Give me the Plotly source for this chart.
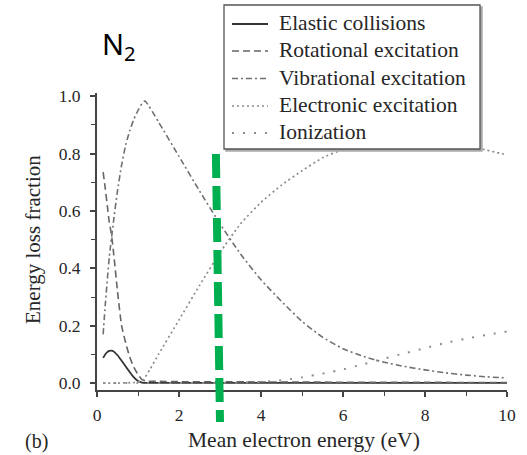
import plotly.graph_objects as go

# ---------------- data ----------------
energy_elastic = [0.15, 0.2, 0.25, 0.3, 0.35, 0.4, 0.5, 0.6, 0.7, 0.8, 0.9, 1.0, 1.1, 1.2, 1.5, 2, 3, 4, 5, 6, 7, 8, 9, 10]
frac_elastic = [0.088, 0.1, 0.108, 0.112, 0.113, 0.111, 0.097, 0.078, 0.058, 0.038, 0.02, 0.007, 0.002, 0.001, 0.001,
                0.001, 0.001, 0.001, 0.001, 0.001, 0.001, 0.001, 0.001, 0.001]

energy_rot = [0.15, 0.2, 0.25, 0.3, 0.35, 0.4, 0.5, 0.6, 0.7, 0.8, 0.9, 1.0, 1.1, 1.2, 1.5, 2, 3, 4, 5, 6, 7, 8, 9, 10]
frac_rot = [0.735, 0.68, 0.62, 0.56, 0.52, 0.46, 0.32, 0.2, 0.14, 0.09, 0.055, 0.03, 0.012, 0.007, 0.006, 0.005,
            0.005, 0.004, 0.004, 0.003, 0.003, 0.003, 0.002, 0.002]

energy_vib = [0.15, 0.2, 0.3, 0.4, 0.5, 0.6, 0.7, 0.8, 0.9, 1.0, 1.1, 1.17, 1.5, 2, 2.5, 3, 3.5, 4, 4.5, 5, 5.5,
              6, 6.5, 7, 7.5, 8, 8.5, 9, 9.5, 10]
frac_vib = [0.17, 0.27, 0.44, 0.56, 0.67, 0.76, 0.83, 0.88, 0.92, 0.95, 0.975, 0.983, 0.91, 0.79, 0.67, 0.555,
            0.45, 0.36, 0.285, 0.215, 0.16, 0.12, 0.093, 0.073, 0.058, 0.046, 0.036, 0.028, 0.022, 0.018]

energy_exc = [0.15, 0.5, 0.9, 1.0, 1.1, 1.3, 1.5, 2.0, 2.5, 3.0, 3.5, 4.0, 4.5, 5.0, 5.5, 6.0, 6.5, 7.0, 7.5, 8.0,
              8.5, 9.0, 9.5, 10]
frac_exc = [0.0, 0.0, 0.002, 0.004, 0.006, 0.05, 0.10, 0.22, 0.34, 0.455, 0.555, 0.63, 0.69, 0.74, 0.785, 0.815,
            0.837, 0.85, 0.855, 0.852, 0.843, 0.828, 0.812, 0.795]

energy_ion = [0.15, 1, 2, 3, 3.5, 4, 4.5, 5, 5.5, 6, 6.5, 7, 7.5, 8, 8.5, 9, 9.5, 10]
frac_ion = [0.0, 0.0, 0.0, 0.001, 0.002, 0.004, 0.01, 0.02, 0.033, 0.048, 0.066, 0.085, 0.104, 0.122, 0.14, 0.155,
            0.168, 0.18]

series_names = ["Elastic collisions", "Rotational excitation", "Vibrational excitation",
                "Electronic excitation", "Ionization"]

x_ticks = [0, 2, 4, 6, 8, 10]
y_ticks = [0.0, 0.2, 0.4, 0.6, 0.8, 1.0]

marker_energy_top = 2.90     # green dashed marker line (eV)
marker_energy_bottom = 3.00

# ---------------- styles ----------------
styles = [
    dict(color="#333333", width=1.8, dash="solid"),
    dict(color="#666666", width=1.6, dash="7px,4px"),
    dict(color="#707070", width=1.6, dash="6px,3px,2px,3px"),
    dict(color="#8c8c8c", width=1.7, dash="2px,3px"),
    dict(color="#8c8c8c", width=2.0, dash="2px,9px"),
]

W, H = 527, 455
L, R, T, B = 97, 20, 93, 65
PW, PH = W - L - R, H - T - B


def px(xp):
    return (xp - L) / PW


def py(yp):
    return (H - B - yp) / PH


SERIF = "Liberation Serif, Times New Roman, serif"
TXT = "#262626"

fig = go.Figure()
data = [(energy_elastic, frac_elastic), (energy_rot, frac_rot), (energy_vib, frac_vib),
        (energy_exc, frac_exc), (energy_ion, frac_ion)]
for (xs, ys), name, st in zip(data, series_names, styles):
    fig.add_trace(go.Scatter(x=xs, y=ys, mode="lines", name=name,
                             line=dict(color=st["color"], width=st["width"], dash=st["dash"],
                                       shape="spline", smoothing=0.5),
                             showlegend=False, hoverinfo="skip"))

shapes = []
# green marker
shapes.append(dict(type="line", xref="x", yref="paper",
                   x0=marker_energy_top, y0=py(154), x1=marker_energy_bottom, y1=py(422),
                   line=dict(color="#00b050", width=8, dash="24px,8px"), layer="above"))
# manual legend box
shapes.append(dict(type="rect", xref="paper", yref="paper",
                   x0=px(226), y0=py(151), x1=px(482), y1=py(7),
                   line=dict(color="#aaaaaa", width=1.5), fillcolor="#aaaaaa", layer="above"))
shapes.append(dict(type="rect", xref="paper", yref="paper",
                   x0=px(224), y0=py(149), x1=px(480), y1=py(5),
                   line=dict(color="#555555", width=1.3), fillcolor="white", layer="above"))
rows = [23, 50, 77.5, 105, 132]
annotations = []
for ry, name, st in zip(rows, series_names, styles):
    shapes.append(dict(type="line", xref="paper", yref="paper",
                       x0=px(232), x1=px(268), y0=py(ry + 1), y1=py(ry + 1),
                       line=dict(color=st["color"], width=st["width"], dash=st["dash"]), layer="above"))
    annotations.append(dict(xref="paper", yref="paper", x=px(277), y=py(ry), xanchor="left", yanchor="middle",
                            text=name, showarrow=False, font=dict(family=SERIF, size=21.5, color=TXT)))

# titles and labels
annotations.append(dict(xref="paper", yref="paper", x=px(304), y=py(440), xanchor="center", yanchor="middle",
                        text="Mean electron energy (eV)", showarrow=False,
                        font=dict(family=SERIF, size=21.5, color=TXT)))
annotations.append(dict(xref="paper", yref="paper", x=px(33), y=py(240), xanchor="center", yanchor="middle",
                        text="Energy loss fraction", textangle=-90, showarrow=False,
                        font=dict(family=SERIF, size=21, color=TXT)))
annotations.append(dict(xref="paper", yref="paper", x=px(36), y=py(441), xanchor="center", yanchor="middle",
                        text="(b)", showarrow=False, font=dict(family=SERIF, size=20, color=TXT)))
annotations.append(dict(xref="paper", yref="paper", x=px(100), y=py(45), xanchor="left", yanchor="middle",
                        text="N<sub>2</sub>", showarrow=False, font=dict(family="Noto Sans", size=29, color="black")))

axis_common = dict(showgrid=False, zeroline=False, showline=True, linecolor="#444444", linewidth=2,
                   ticks="outside", tickcolor="#444444", tickwidth=1.5, ticklen=5,
                   tickfont=dict(family=SERIF, size=17.5, color=TXT))

fig.update_layout(
    width=W, height=H, margin=dict(l=L, r=R, t=T, b=B),
    paper_bgcolor="white", plot_bgcolor="white",
    xaxis=dict(range=[0, 10], tickvals=x_ticks, ticktext=[str(v) for v in x_ticks],
               minor=dict(dtick=1, ticks="outside", ticklen=4, tickcolor="#444444", tickwidth=1.2),
               ticklabelstandoff=3, **axis_common),
    yaxis=dict(range=[-0.024, 1.011], tickvals=y_ticks, ticktext=[f"{v:.1f}" for v in y_ticks],
               minor=dict(dtick=0.1, ticks="outside", ticklen=4, tickcolor="#444444", tickwidth=1.2),
               ticklabelstandoff=6, **axis_common),
    shapes=shapes, annotations=annotations, showlegend=False,
)

fig.write_html("out.html")
